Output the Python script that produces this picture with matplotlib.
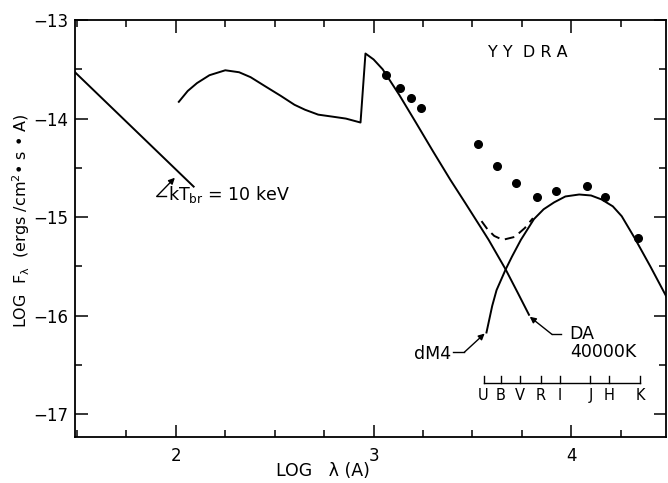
import matplotlib
matplotlib.use("Agg")
import matplotlib.pyplot as plt
from matplotlib.ticker import MultipleLocator

plt.rcParams['font.family'] = ['DejaVu Sans']
plt.rcParams['mathtext.fontset'] = 'dejavusans'

# --- data (log lambda, log F_lambda) ---
brems_x = [1.49, 2.09]
brems_y = [-13.53, -14.69]

wd_x = [2.015, 2.06, 2.107, 2.17, 2.25, 2.32, 2.378, 2.45, 2.531, 2.60, 2.653, 2.72,
        2.791, 2.86, 2.934, 2.959, 3.00, 3.046, 3.13, 3.214, 3.30, 3.388, 3.465,
        3.541, 3.582, 3.668, 3.73, 3.786]
wd_y = [-13.83, -13.72, -13.64, -13.56, -13.51, -13.53, -13.58, -13.67, -13.77, -13.86,
        -13.91, -13.96, -13.98, -14.00, -14.04, -13.34, -13.40, -13.50, -13.76, -14.04,
        -14.33, -14.62, -14.86, -15.10, -15.23, -15.53, -15.77, -15.99]

dm4_x = [3.571, 3.60, 3.622, 3.668, 3.70, 3.745, 3.811, 3.86, 3.913, 3.97, 4.04, 4.10,
         4.153, 4.21, 4.255, 4.32, 4.40, 4.49]
dm4_y = [-16.17, -15.90, -15.74, -15.53, -15.40, -15.23, -15.02, -14.92, -14.85, -14.79,
         -14.77, -14.78, -14.82, -14.89, -14.99, -15.21, -15.50, -15.84]

sum_x = [3.546, 3.575, 3.61, 3.653, 3.714, 3.765, 3.806]
sum_y = [-15.04, -15.12, -15.19, -15.23, -15.20, -15.11, -15.01]

obs_x = [3.061, 3.133, 3.189, 3.240, 3.526, 3.622, 3.719, 3.827, 3.923, 4.077, 4.173, 4.337]
obs_y = [-13.56, -13.69, -13.79, -13.89, -14.26, -14.48, -14.65, -14.80, -14.73, -14.68,
         -14.80, -15.21]

bands = ['U', 'B', 'V', 'R', 'I', 'J', 'H', 'K']
band_x = [3.556, 3.643, 3.740, 3.847, 3.944, 4.097, 4.189, 4.347]

x_ticks = [2, 3, 4]
y_ticks = [-17, -16, -15, -14, -13]

fig = plt.figure(figsize=(6.68, 4.83), dpi=100)
ax = fig.add_axes([0.1123, 0.0952, 0.885, 0.8634])

lw = 1.4
ax.plot(brems_x, brems_y, color='k', lw=lw)
ax.plot(wd_x, wd_y, color='k', lw=lw)
ax.plot(dm4_x, dm4_y, color='k', lw=lw)
ax.plot(sum_x, sum_y, color='k', lw=lw, dashes=(5, 3))
ax.plot(obs_x, obs_y, 'o', color='k', ms=5.5)

ax.set_xlim(1.49, 4.48)
ax.set_ylim(-17.23, -13.0)

ax.set_xticks(x_ticks)
ax.set_yticks(y_ticks)
ax.xaxis.set_minor_locator(MultipleLocator(0.25))
ax.yaxis.set_minor_locator(MultipleLocator(0.5))
ax.tick_params(which='both', direction='in', top=True, right=True, width=1.1,
               labelsize=12)
ax.tick_params(which='major', length=9)
ax.tick_params(which='minor', length=5)
ax.tick_params(axis='y', pad=5)
ax.tick_params(axis='x', pad=7)
for s in ax.spines.values():
    s.set_linewidth(1.3)

ax.set_xlabel('LOG   λ (A)', fontsize=12.5)
ax.xaxis.set_label_coords(0.42, -0.06)
ax.set_ylabel(r'LOG  F$_{\mathrm{λ}}$  (ergs /cm$^2$• s • A)', fontsize=11.5)
ax.yaxis.set_label_coords(-0.072, 0.52)

ax.text(3.78, -13.33, 'Y Y  D R A', fontsize=11.5, ha='center', va='center')

arrow = dict(arrowstyle='-|>', color='k', lw=1.0, mutation_scale=9,
             shrinkA=0, shrinkB=0)

# kT_br annotation
ax.plot([1.903, 1.949], [-14.79, -14.79], color='k', lw=1.0)
ax.annotate('', xy=(1.995, -14.60), xytext=(1.903, -14.79), arrowprops=arrow)
ax.text(1.962, -14.83, r'kT$_{\mathrm{br}}$ = 10 keV', fontsize=12.5,
        ha='left', va='baseline')

# dM4 annotation
ax.plot([3.40, 3.459], [-16.37, -16.37], color='k', lw=1.0)
ax.annotate('', xy=(3.562, -16.18), xytext=(3.459, -16.37), arrowprops=arrow)
ax.text(3.39, -16.39, 'dM4', fontsize=12.5, ha='right', va='center')

# DA annotation
ax.plot([3.903, 3.949], [-16.19, -16.19], color='k', lw=1.0)
ax.annotate('', xy=(3.79, -16.01), xytext=(3.903, -16.19), arrowprops=arrow)
ax.text(3.99, -16.19, 'DA', fontsize=12.5, ha='left', va='center')
ax.text(3.995, -16.37, '40000K', fontsize=12.5, ha='left', va='center')

# photometric band bar
bar_y = -16.68
ax.plot([band_x[0], band_x[-1]], [bar_y, bar_y], color='k', lw=1.0)
for bx, b in zip(band_x, bands):
    ax.plot([bx, bx], [bar_y, bar_y + 0.07], color='k', lw=1.0)
    ax.text(bx, bar_y - 0.13, b, fontsize=10.5, ha='center', va='center')

fig.savefig('out.png', dpi=100)
